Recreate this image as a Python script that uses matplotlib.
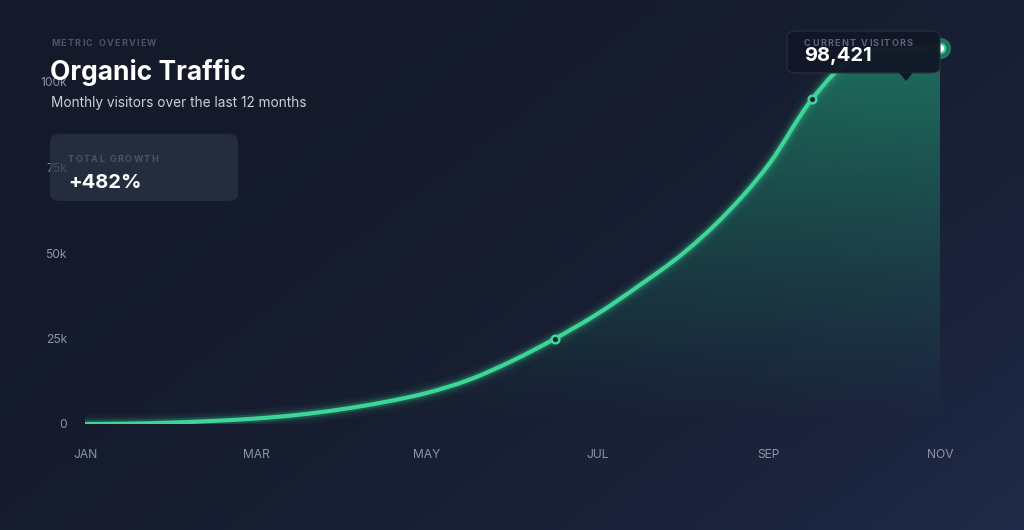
import numpy as np
import matplotlib.pyplot as plt
from matplotlib.patches import FancyBboxPatch, Polygon, PathPatch
from matplotlib.path import Path
from matplotlib.colors import to_rgb
from matplotlib.textpath import TextToPath
from matplotlib.font_manager import FontProperties

plt.rcParams['font.family'] = ['Inter', 'DejaVu Sans']

# month axis labels (every other month shown)
tick_months = ['JAN', 'MAR', 'MAY', 'JUL', 'SEP', 'NOV']
tick_pos = [0, 2, 4, 6, 8, 10]

# visitors, every half month from JAN to NOV
month_pos = [0, 0.5, 1, 1.5, 2, 2.5, 3, 3.5, 4, 4.5, 5, 5.5,
             6, 6.5, 7, 7.5, 8, 8.5, 9, 9.5, 10]
visitors = [0, 100, 400, 900, 1600, 2700, 4300, 6400, 9100, 13000, 18500, 25000,
            32300, 40800, 50000, 61500, 76000, 94900, 107500, 109500, 110000]

# highlighted points on the line
mark_pos = [5.5, 8.5]
mark_vals = [25000, 94900]
end_pos = 10
end_val = 110000

y_ticks = [0, 25000, 50000, 75000, 100000]
y_labels = ['0', '25k', '50k', '75k', '100k']

W, H = 1024, 530
def fx(px):
    return px / W
def fy(py):
    return 1 - py / H

fig = plt.figure(figsize=(W / 100, H / 100), dpi=100)

# letter spaced small caps labels
ttp = TextToPath()
def spaced_text(x_px, y_px, s, size, color, track_px, weight='bold', z=3):
    prop = FontProperties(family=['Inter', 'DejaVu Sans'], size=size, weight=weight)
    x = x_px
    for ch in s:
        fig.text(fx(x), fy(y_px), ch, color=color, fontproperties=prop,
                 va='center', ha='left', zorder=z)
        w, h, d = ttp.get_text_width_height_descent(ch if ch != ' ' else 'n', prop, ismath=False)
        if ch == ' ':
            w = w * 0.55
        x += w * 100 / 72 + track_px

# smooth path through the data points (catmull-rom as cubic bezier)
def smooth_path(xs, ys):
    p = np.column_stack([xs, ys]).astype(float)
    verts = [p[0]]
    codes = [Path.MOVETO]
    n = len(p)
    for i in range(n - 1):
        p0 = p[i - 1] if i > 0 else p[i]
        p3 = p[i + 2] if i + 2 < n else p[i + 1]
        c1 = p[i] + (p[i + 1] - p0) / 6
        c2 = p[i + 1] - (p3 - p[i]) / 6
        verts += [c1, c2, p[i + 1]]
        codes += [Path.CURVE4] * 3
    return np.array(verts), codes

# background gradient
bg = fig.add_axes([0, 0, 1, 1])
bg.set_axis_off()
c0 = np.array(to_rgb('#141a29'))
c1 = np.array(to_rgb('#202a48'))
gx, gy = np.meshgrid(np.linspace(0, 1, 200), np.linspace(0, 1, 100))
t = np.clip((gx * 0.6 + gy * 0.4) ** 2.2, 0, 1)
img = c0 + (c1 - c0) * t[..., None]
bg.imshow(img, extent=[0, 1, 0, 1], origin='upper', aspect='auto')
bg.set_xlim(0, 1)
bg.set_ylim(0, 1)

# chart area
ax = fig.add_axes([fx(85), fy(424), (940 - 85) / W, (424 - 13.6) / H])
ax.patch.set_alpha(0)
line_col = '#3dd598'

verts, codes = smooth_path(month_pos, visitors)
line_path = Path(verts, codes)
fill_verts = np.vstack([verts, [[month_pos[-1], 0], [month_pos[0], 0], verts[0]]])
fill_codes = codes + [Path.LINETO, Path.LINETO, Path.CLOSEPOLY]
fill_path = Path(fill_verts, fill_codes)

# gradient fill under the curve
grad = np.linspace(0, 1, 256)
rgba = np.zeros((256, 1, 4))
rgba[..., :3] = to_rgb('#22a37a')
rgba[:, 0, 3] = 0.6 * grad ** 1.15
im = ax.imshow(rgba, extent=[0, 10, 0, 110000], origin='lower', aspect='auto', zorder=1)
im.set_clip_path(fill_path, transform=ax.transData)

# glow + line
for lw, a in [(14, 0.04), (9.5, 0.08), (6, 0.2)]:
    ax.add_patch(PathPatch(line_path, fill=False, edgecolor=line_col, lw=lw, alpha=a,
                           capstyle='round', zorder=3))
ax.add_patch(PathPatch(line_path, fill=False, edgecolor=line_col, lw=3,
                       capstyle='round', zorder=4))

ax.scatter(mark_pos, mark_vals, s=30, facecolor='#152030', edgecolor=line_col,
           linewidth=1.8, zorder=5)
ax.scatter([end_pos], [end_val], s=200, color='#25826a', alpha=0.85, zorder=5, clip_on=False)
ax.scatter([end_pos], [end_val], s=45, color='white', edgecolor=line_col,
           linewidth=1.5, zorder=6, clip_on=False)

ax.set_xlim(0, 10)
ax.set_ylim(0, 120000)
ax.set_yticks(y_ticks)
ax.set_yticklabels(y_labels)
ax.set_xticks(tick_pos)
ax.set_xticklabels(tick_months)
ax.tick_params(axis='y', length=0, pad=13, labelsize=8.7, labelcolor='#8a94a6')
ax.tick_params(axis='x', length=0, pad=18, labelsize=8.7, labelcolor='#8a94a6')
for s in ax.spines.values():
    s.set_visible(False)
ax.grid(axis='y', color='white', alpha=0.02, lw=0.8, ls=(0, (4, 4)))
ax.set_axisbelow(True)

# header texts
spaced_text(51, 44, 'METRIC OVERVIEW', 6.5, '#4b5567', 1.3)
fig.text(fx(50), fy(72), 'Organic Traffic', color='white', fontsize=19,
         fontweight='bold', va='center', ha='left')
fig.text(fx(51), fy(103), 'Monthly visitors over the last 12 months', color='#c9d1dd',
         fontsize=9.8, va='center', ha='left')

# total growth card
card = FancyBboxPatch((fx(50), fy(201)), fx(238) - fx(50), fy(134) - fy(201),
                      boxstyle='round,pad=0,rounding_size=0.012', transform=fig.transFigure,
                      facecolor='#2a3445', alpha=0.75, edgecolor='none', zorder=2)
fig.patches.append(card)
spaced_text(68, 160, 'TOTAL GROWTH', 6.5, '#4a5466', 1.3)
fig.text(fx(68), fy(183), '+482%', color='white', fontsize=14.5,
         fontweight='bold', va='center', ha='left', zorder=3)

# tooltip
tip = FancyBboxPatch((fx(787), fy(73)), fx(940) - fx(787), fy(31) - fy(73),
                     boxstyle='round,pad=0,rounding_size=0.01', transform=fig.transFigure,
                     facecolor='#111726', edgecolor='#2a3344', lw=0.8, alpha=0.96, zorder=4)
fig.patches.append(tip)
arrow = Polygon([[fx(899), fy(72.5)], [fx(913), fy(72.5)], [fx(906), fy(81)]],
                closed=True, transform=fig.transFigure, facecolor='#111726',
                edgecolor='none', zorder=4)
fig.patches.append(arrow)
spaced_text(804, 44, 'CURRENT VISITORS', 6.5, '#5b6577', 1.3, z=5)
fig.text(fx(804), fy(56), '98,421', color='white', fontsize=14.5,
         fontweight='bold', va='center', ha='left', zorder=5)

fig.savefig('out.png', dpi=100, facecolor='#151b2b')
